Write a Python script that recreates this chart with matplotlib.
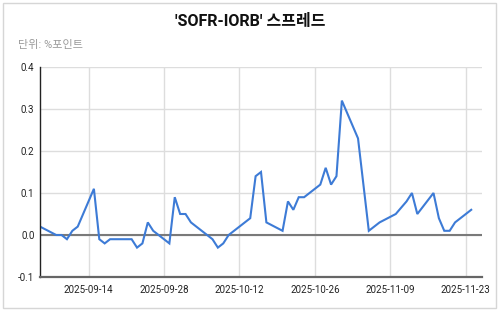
import matplotlib
matplotlib.use('Agg')
import matplotlib.pyplot as plt
import matplotlib.dates as mdates
from matplotlib.patches import Rectangle
import numpy as np
import pandas as pd

plt.rcParams['font.family'] = ['Roboto', 'Noto Sans CJK KR', 'DejaVu Sans']

LINE_COLOR = '#3d7bd6'
GRID_COLOR = '#dddddd'

TITLE = "'SOFR-IORB' 스프레드"
SUBTITLE = '단위: %포인트'

dates = [
    '2025-09-05', '2025-09-08', '2025-09-09', '2025-09-10', '2025-09-11', '2025-09-12',
    '2025-09-15', '2025-09-16', '2025-09-17', '2025-09-18', '2025-09-19',
    '2025-09-22', '2025-09-23', '2025-09-24', '2025-09-25', '2025-09-26',
    '2025-09-29', '2025-09-30', '2025-10-01', '2025-10-02', '2025-10-03',
    '2025-10-06', '2025-10-07', '2025-10-08', '2025-10-09', '2025-10-10',
    '2025-10-14', '2025-10-15', '2025-10-16', '2025-10-17',
    '2025-10-20', '2025-10-21', '2025-10-22', '2025-10-23', '2025-10-24',
    '2025-10-27', '2025-10-28', '2025-10-29', '2025-10-30', '2025-10-31',
    '2025-11-03', '2025-11-04', '2025-11-05', '2025-11-06', '2025-11-07',
    '2025-11-10', '2025-11-12', '2025-11-13', '2025-11-14',
    '2025-11-17', '2025-11-18', '2025-11-19', '2025-11-20', '2025-11-21',
    '2025-11-24',
]
spread = [
    0.02, 0.00, 0.00, -0.01, 0.01, 0.02,
    0.11, -0.01, -0.02, -0.01, -0.01,
    -0.01, -0.03, -0.02, 0.03, 0.01,
    -0.02, 0.09, 0.05, 0.05, 0.03,
    0.00, -0.01, -0.03, -0.02, 0.00,
    0.04, 0.14, 0.15, 0.03,
    0.01, 0.08, 0.06, 0.09, 0.09,
    0.12, 0.16, 0.12, 0.14, 0.32,
    0.23, 0.12, 0.01, 0.02, 0.03,
    0.05, 0.08, 0.10, 0.05,
    0.10, 0.04, 0.01, 0.01, 0.03,
    0.06,
]
x_ticks = ['2025-09-14', '2025-09-28', '2025-10-12', '2025-10-26', '2025-11-09', '2025-11-23']
y_ticks = [-0.1, 0.0, 0.1, 0.2, 0.3, 0.4]

x = pd.to_datetime(dates)

fig = plt.figure(figsize=(5, 3.11), dpi=100)
ax = fig.add_axes([0.08, 0.1093, 0.884, 0.6753])

# card border like the sheet chart
fig.patches.append(Rectangle((0.006, 0.01), 0.986, 0.98, transform=fig.transFigure,
                             fill=False, edgecolor='#d6d6d6', linewidth=1.0))

ax.plot(x, spread, color=LINE_COLOR, linewidth=1.5, solid_joinstyle='miter')

ax.set_xlim(pd.Timestamp('2025-09-05'), pd.Timestamp('2025-11-26'))
ax.set_ylim(-0.1, 0.4)
ax.set_yticks(y_ticks)
ax.set_yticklabels([f'{v:.1f}' for v in y_ticks])
ax.set_xticks(pd.to_datetime(x_ticks))
ax.set_xticklabels(x_ticks)

ax.grid(True, color=GRID_COLOR, linewidth=1.0)
ax.set_axisbelow(True)
ax.axhline(0, color='#7a7a7a', linewidth=1.5, zorder=1.5)

for side in ['top', 'right']:
    ax.spines[side].set_visible(False)
ax.spines['left'].set_color('#222222')
ax.spines['left'].set_linewidth(1.0)
ax.spines['bottom'].set_color('#666666')
ax.spines['bottom'].set_linewidth(1.6)
ax.tick_params(length=0, labelsize=7, colors='#222222', pad=4)
ax.tick_params(axis='x', pad=6)

fig.text(0.5, 0.93, TITLE, ha='center', va='center', fontsize=11.5,
         fontweight='bold', color='#111111')
fig.text(0.036, 0.855, SUBTITLE, ha='left', va='center', fontsize=8,
         color='#9a9a9a')

fig.savefig('out.png', dpi=100)
